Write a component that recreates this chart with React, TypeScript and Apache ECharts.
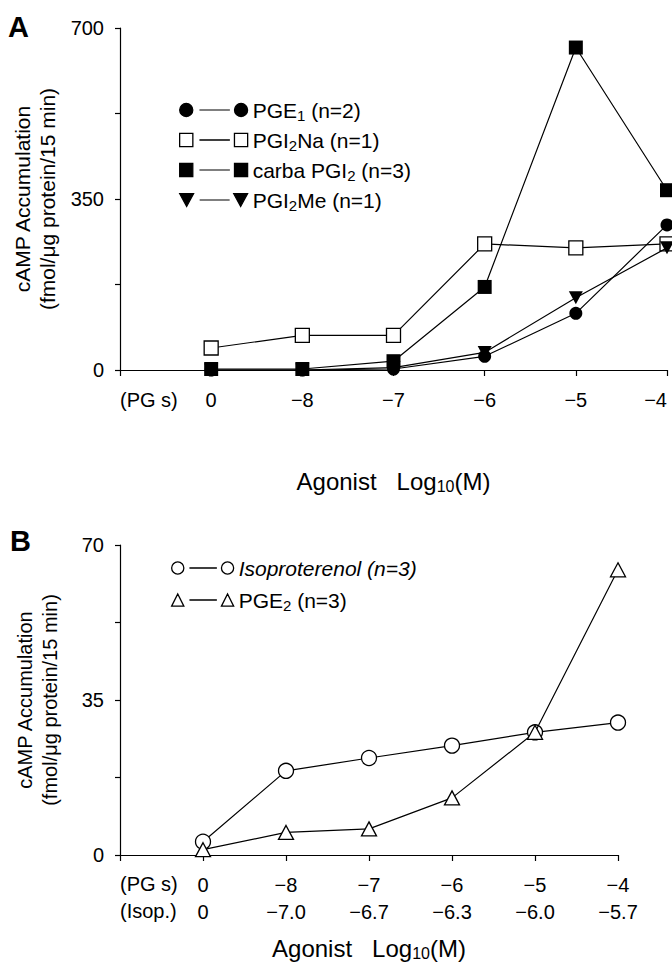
import React, { useEffect, useRef } from 'react';
import * as echarts from 'echarts';

// ---------- data ----------
const pgLabels = ['0', '−8', '−7', '−6', '−5', '−4'];
const isopLabels = ['0', '−7.0', '−6.7', '−6.3', '−6.0', '−5.7'];

// Panel A (fmol/µg protein/15 min)
const pge1 = [0, 0, 2, 28, 116, 297];
const pgi2Na = [45, 71, 71, 258, 250, 258];
const carbaPgi2 = [2, 2, 18, 170, 660, 368];
const pgi2Me = [0, 0, 5, 36, 148, 250];

// Panel B
const isoproterenol = [3.0, 19.0, 21.9, 24.7, 27.7, 29.9];
const pge2 = [1.2, 5.1, 5.9, 12.9, 27.7, 64.4];

const namesA = ['PGE1 (n=2)', 'PGI2Na (n=1)', 'carba PGI2 (n=3)', 'PGI2Me (n=1)'];
const richNamesA = ['PGE{s|1} (n=2)', 'PGI{s|2}Na (n=1)', 'carba PGI{s|2} (n=3)', 'PGI{s|2}Me (n=1)'];
const namesB = ['Isoproterenol (n=3)', 'PGE2 (n=3)'];
const richNamesB = ['{i|Isoproterenol (n=3)}', 'PGE{s|2} (n=3)'];

// ---------- styling ----------
const FONT = 'Liberation Sans, Arial, sans-serif';
const BLACK = '#000';
const LW = 1.2;

const toPoints = (vals: number[]) => vals.map((v, i) => [i + 1, v]);

const filled = { color: BLACK, borderColor: BLACK, borderWidth: 0 };
const open = { color: '#fff', borderColor: BLACK, borderWidth: 1.3 };

const TRI_DOWN = 'path://M0,0L10,0L5,9Z';

const ICON_CIRCLE_A = 'path://M0.5,7A6.5,6.5,0,1,1,13.5,7A6.5,6.5,0,1,1,0.5,7ZM20,7L50,7M54.5,7A6.5,6.5,0,1,1,67.5,7A6.5,6.5,0,1,1,54.5,7Z';
const ICON_SQUARE_A = 'path://M0.5,0.5L13.5,0.5L13.5,13.5L0.5,13.5ZM20,7L50,7M54.5,0.5L67.5,0.5L67.5,13.5L54.5,13.5Z';
const ICON_TRI_DOWN_A = 'path://M0,0.5L14,0.5L7,13.5ZM20,7L50,7M54,0.5L68,0.5L61,13.5Z';
const ICON_CIRCLE_B = 'path://M0.5,6.5A6,6,0,1,1,12.5,6.5A6,6,0,1,1,0.5,6.5ZM18,6.5L45,6.5M49.5,6.5A6,6,0,1,1,61.5,6.5A6,6,0,1,1,49.5,6.5Z';
const ICON_TRI_UP_B = 'path://M0.5,12.5L6.5,0.5L12.5,12.5ZM18,6.5L45,6.5M49.5,12.5L55.5,0.5L61.5,12.5Z';

const axisLineStyle = { color: BLACK, width: LW };
const subRich = {
  s: { fontFamily: FONT, fontSize: 15, lineHeight: 15, verticalAlign: 'bottom', color: BLACK },
  i: { fontFamily: FONT, fontSize: 21, fontStyle: 'italic', color: BLACK },
};

function xAxisCfg(grid: number, labels: (i: number) => string, nameGap: number, labelMargin: number, alignMax?: string) {
  return {
    gridIndex: grid,
    type: 'value',
    min: 0,
    max: 6,
    interval: 1,
    axisLine: { show: true, onZero: false, lineStyle: axisLineStyle },
    axisTick: { show: true, length: 6, lineStyle: axisLineStyle },
    splitLine: { show: false },
    axisLabel: {
      formatter: (v: number) => (v >= 1 ? labels(v - 1) : ''),
      margin: labelMargin,
      fontSize: 20,
      lineHeight: 27,
      color: BLACK,
      fontFamily: FONT,
      ...(alignMax ? { alignMaxLabel: alignMax } : {}),
    },
    name: 'Agonist   Log{s|10}(M)',
    nameLocation: 'middle',
    nameGap,
    nameTextStyle: {
      fontFamily: FONT,
      fontSize: 24,
      lineHeight: 26,
      color: BLACK,
      rich: { s: { fontFamily: FONT, fontSize: 16, lineHeight: 14, verticalAlign: 'bottom', color: BLACK } },
    },
  };
}

function yAxisCfg(grid: number, max: number, interval: number, labelEvery: number, fontSize: number) {
  return {
    gridIndex: grid,
    type: 'value',
    min: 0,
    max,
    interval,
    axisLine: { show: true, onZero: false, lineStyle: axisLineStyle },
    axisTick: { show: true, length: 5, lineStyle: axisLineStyle },
    splitLine: { show: false },
    axisLabel: {
      formatter: (v: number) => (Math.abs(v % labelEvery) < 1e-6 ? String(v) : ''),
      margin: 16,
      fontSize: 20,
      color: BLACK,
      fontFamily: FONT,
    },
    name: 'cAMP Accumulation\n(fmol/μg protein/15 min)',
    nameLocation: 'middle',
    nameRotate: 90,
    nameGap: 58,
    nameTextStyle: { fontFamily: FONT, fontSize, lineHeight: 25, color: BLACK },
  };
}

function lineSeries(name: string, vals: number[], axis: number, symbol: string, size: any, itemStyle: any, z: number) {
  return {
    name,
    type: 'line',
    xAxisIndex: axis,
    yAxisIndex: axis,
    data: toPoints(vals),
    symbol,
    symbolSize: size,
    showAllSymbol: true,
    itemStyle,
    lineStyle: { color: BLACK, width: LW },
    z,
  };
}

const option = {
  animation: false,
  backgroundColor: '#fff',
  textStyle: { fontFamily: FONT, color: BLACK },
  title: [
    { text: 'A', left: 8, top: 12, padding: 0, textStyle: { fontFamily: FONT, fontSize: 29, fontWeight: 'bold', color: BLACK } },
    { text: 'B', left: 10, top: 526, padding: 0, textStyle: { fontFamily: FONT, fontSize: 29, fontWeight: 'bold', color: BLACK } },
  ],
  grid: [
    { left: 120, top: 28, width: 547, height: 342, containLabel: false, outerBoundsMode: 'none' },
    { left: 120, top: 545, width: 498, height: 310, containLabel: false, outerBoundsMode: 'none' },
  ],
  xAxis: [
    xAxisCfg(0, (i) => pgLabels[i], 98, 16, 'right'),
    xAxisCfg(1, (i) => pgLabels[i] + '\n' + isopLabels[i], 80, 16),
  ],
  yAxis: [yAxisCfg(0, 700, 175, 350, 21), yAxisCfg(1, 70, 17.5, 35, 20)],
  legend: [
    {
      orient: 'vertical',
      left: 174,
      top: 92,
      itemGap: 4,
      itemWidth: 68,
      itemHeight: 14,
      data: [
        { name: namesA[0], icon: ICON_CIRCLE_A, itemStyle: { color: BLACK, borderColor: BLACK, borderWidth: LW } },
        { name: namesA[1], icon: ICON_SQUARE_A, itemStyle: { color: '#fff', borderColor: BLACK, borderWidth: 1.3 } },
        { name: namesA[2], icon: ICON_SQUARE_A, itemStyle: { color: BLACK, borderColor: BLACK, borderWidth: LW } },
        { name: namesA[3], icon: ICON_TRI_DOWN_A, itemStyle: { color: BLACK, borderColor: BLACK, borderWidth: LW } },
      ],
      formatter: (n: string) => richNamesA[namesA.indexOf(n)],
      textStyle: { fontFamily: FONT, fontSize: 21, lineHeight: 26, color: BLACK, rich: subRich },
      selectedMode: false,
    },
    {
      orient: 'vertical',
      left: 166,
      top: 550,
      itemGap: 6,
      itemWidth: 62,
      itemHeight: 13,
      data: [
        { name: namesB[0], icon: ICON_CIRCLE_B, itemStyle: { color: '#fff', borderColor: BLACK, borderWidth: 1.3 } },
        { name: namesB[1], icon: ICON_TRI_UP_B, itemStyle: { color: '#fff', borderColor: BLACK, borderWidth: 1.3 } },
      ],
      formatter: (n: string) => richNamesB[namesB.indexOf(n)],
      textStyle: { fontFamily: FONT, fontSize: 21, lineHeight: 26, color: BLACK, rich: subRich },
      selectedMode: false,
    },
  ],
  graphic: [
    { type: 'text', x: 120, y: 400, style: { text: '(PG s)', font: `20px ${FONT}`, fill: BLACK, align: 'left', verticalAlign: 'middle' } },
    { type: 'text', x: 120, y: 884, style: { text: '(PG s)', font: `20px ${FONT}`, fill: BLACK, align: 'left', verticalAlign: 'middle' } },
    { type: 'text', x: 120, y: 911, style: { text: '(Isop.)', font: `20px ${FONT}`, fill: BLACK, align: 'left', verticalAlign: 'middle' } },
  ],
  series: [
    lineSeries(namesA[0], pge1, 0, 'circle', 13, filled, 2),
    lineSeries(namesA[1], pgi2Na, 0, 'rect', 14, open, 3),
    lineSeries(namesA[2], carbaPgi2, 0, 'rect', 14, filled, 4),
    lineSeries(namesA[3], pgi2Me, 0, TRI_DOWN, [14, 13], filled, 5),
    lineSeries(namesB[0], isoproterenol, 1, 'circle', 15, open, 2),
    lineSeries(namesB[1], pge2, 1, 'triangle', [15, 14], open, 3),
  ],
};

export default function App() {
  const ref = useRef<HTMLDivElement>(null);
  useEffect(() => {
    const chart = echarts.init(ref.current!, null, { renderer: 'svg' });
    chart.setOption(option as any);
    return () => chart.dispose();
  }, []);
  return <div ref={ref} style={{ position: 'absolute', left: 0, top: 0, width: 672, height: 966 }} />;
}
